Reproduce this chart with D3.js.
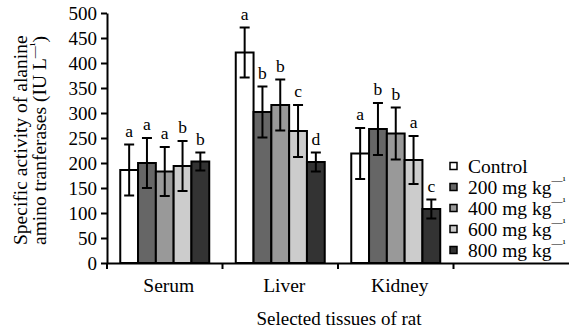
<!DOCTYPE html>
<html><head><meta charset="utf-8">
<script src="https://cdn.jsdelivr.net/npm/d3@7/dist/d3.min.js"></script>
<style>
body{margin:0;background:#fff}
svg{display:block}
svg text{font-family:"Liberation Serif","Times New Roman",serif;fill:#000}
</style>
</head><body>
<svg id="c" width="569" height="329" font-family="Liberation Serif"></svg>
<script>
const tissues = ["Serum", "Liver", "Kidney", ""];
const seriesNames = ["Control", "200 mg kg", "400 mg kg", "600 mg kg", "800 mg kg"];
const seriesColors = ["#ffffff", "#666666", "#999999", "#cccccc", "#333333"];
// means (IU L-1) per tissue: Serum, Liver, Kidney
const control = [186, 421, 219];
const dose200 = [200, 302, 268];
const dose400 = [183, 316, 259];
const dose600 = [194, 264, 206];
const dose800 = [203, 202, 108];
// error bars (+/-)
const errControl = [51, 50, 51];
const err200 = [50, 51, 52];
const err400 = [49, 51, 52];
const err600 = [50, 52, 48];
const err800 = [18, 19, 19];
// significance letters
const letControl = ["a", "a", "a"];
const let200 = ["a", "b", "b"];
const let400 = ["a", "b", "b"];
const let600 = ["b", "c", "a"];
const let800 = ["b", "d", "c"];
const yTicks = [0, 50, 100, 150, 200, 250, 300, 350, 400, 450, 500];

const means = [control, dose200, dose400, dose600, dose800];
const errs = [errControl, err200, err400, err600, err800];
const lets = [letControl, let200, let400, let600, let800];

const rows = [];
seriesNames.forEach((s, si) => {
  tissues.slice(0, 3).forEach((t, ti) => {
    rows.push({series: s, si, tissue: t, v: means[si][ti], e: errs[si][ti], l: lets[si][ti]});
  });
});

const FONT = "Liberation Serif";
const svg = d3.select("#c");
const x = d3.scaleBand().domain(tissues).range([107, 569]).paddingInner(0).paddingOuter(0);
const xs = d3.scaleBand().domain(seriesNames).range([0, x.bandwidth()]).paddingInner(0).paddingOuter(0.745);
const y = d3.scaleLinear().domain([0, 500]).range([263, 13]);

// bars
svg.append("g").selectAll("rect").data(rows).join("rect")
  .attr("x", d => x(d.tissue) + xs(d.series))
  .attr("y", d => y(d.v))
  .attr("width", xs.bandwidth())
  .attr("height", d => y(0) - y(d.v))
  .attr("fill", d => seriesColors[d.si])
  .attr("stroke", "#000").attr("stroke-width", 2);

// error bars
const eg = svg.append("g").attr("stroke", "#000").attr("stroke-width", 2).attr("fill", "none");
rows.forEach(d => {
  const cx = x(d.tissue) + xs(d.series) + xs.bandwidth() / 2;
  eg.append("line").attr("x1", cx).attr("x2", cx).attr("y1", y(d.v + d.e)).attr("y2", y(d.v - d.e));
  eg.append("line").attr("x1", cx - 5).attr("x2", cx + 5).attr("y1", y(d.v + d.e)).attr("y2", y(d.v + d.e));
  eg.append("line").attr("x1", cx - 5).attr("x2", cx + 5).attr("y1", y(d.v - d.e)).attr("y2", y(d.v - d.e));
});

// letters
svg.append("g").selectAll("text").data(rows).join("text")
  .attr("x", d => x(d.tissue) + xs(d.series) + xs.bandwidth() / 2)
  .attr("y", d => y(d.v + d.e) - 8)
  .attr("text-anchor", "middle").attr("font-size", 17.5).attr("font-family", FONT)
  .text(d => d.l);

// y axis
const ya = svg.append("g").attr("transform", "translate(107,0)")
  .call(d3.axisLeft(y).tickValues(yTicks).tickSize(6).tickSizeOuter(0).tickPadding(4));
ya.attr("font-family", FONT).attr("font-size", 19);
ya.select(".domain").attr("stroke-width", 2);
ya.selectAll(".tick line").attr("stroke-width", 2);
ya.selectAll(".tick text").attr("font-size", 19).attr("font-family", FONT);

// x axis
const xa = svg.append("g").attr("transform", `translate(0,${y(0)})`)
  .call(d3.axisBottom(x).tickSize(0).tickSizeOuter(0).tickFormat(() => ""));
xa.select(".domain").attr("stroke-width", 2);
xa.selectAll(".tick").remove();
svg.append("g").selectAll("line").data(tissues).join("line")
  .attr("x1", d => x(d)).attr("x2", d => x(d))
  .attr("y1", y(0)).attr("y2", y(0) + 6)
  .attr("stroke", "#000").attr("stroke-width", 2);
svg.append("g").selectAll("text").data(tissues).join("text")
  .attr("x", d => x(d) + x.bandwidth() / 2 + 4)
  .attr("y", y(0) + 29)
  .attr("text-anchor", "middle").attr("font-size", 19.5).attr("font-family", FONT)
  .text(d => d);

// axis titles
svg.append("text").attr("x", 339).attr("y", 324.5).attr("text-anchor", "middle")
  .attr("font-size", 19).attr("font-family", FONT).text("Selected tissues of rat");
const yt = svg.append("text").attr("transform", "translate(27,245) rotate(-90)")
  .attr("font-size", 19.5).attr("font-family", FONT);
yt.append("tspan").attr("x", 0).attr("y", 0).text("Specific activity of alanine");
yt.append("tspan").attr("x", 0).attr("y", 18.5).text("amino tranferases (IU L");
yt.append("tspan").attr("font-size", 12).attr("dy", -8).text("\u2014\u00b9");
yt.append("tspan").attr("dy", 8).text(")");

// legend
const lg = svg.append("g").selectAll("g").data(seriesNames).join("g")
  .attr("transform", (d, i) => `translate(450,${162.5 + i * 21})`);
lg.append("rect").attr("width", 7).attr("height", 7)
  .attr("fill", (d, i) => seriesColors[i]).attr("stroke", "#000").attr("stroke-width", 1.5);
const lt = lg.append("text").attr("x", 18).attr("y", 10).attr("font-size", 19.5).attr("font-family", FONT);
lt.append("tspan").text(d => d);
lt.filter((d, i) => i > 0).append("tspan").attr("font-size", 11).attr("dy", -10).text("\u2014\u00b9");
</script>
</body></html>
